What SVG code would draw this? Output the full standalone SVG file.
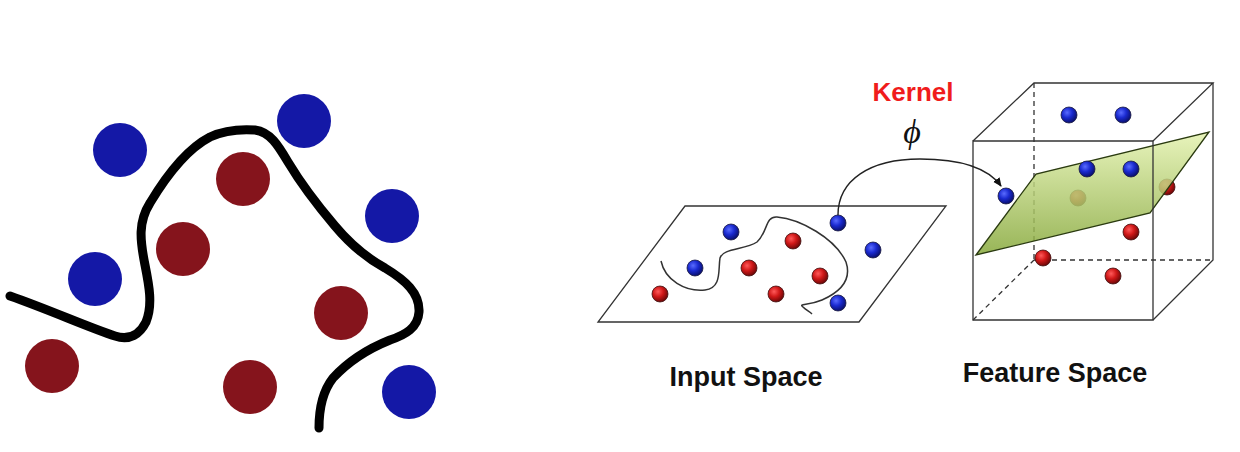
<svg xmlns="http://www.w3.org/2000/svg" width="1240" height="452" viewBox="0 0 1240 452">
<defs>
<style>
.bl{fill:#1418a6}
.rd{fill:#85141c}
.edge{fill:none;stroke:#333;stroke-width:1.3}
.dash{fill:none;stroke:#333;stroke-width:1.3;stroke-dasharray:5,4}
.sb{fill:url(#gb);stroke:#1a1a40;stroke-width:0.8}
.sr{fill:url(#gr);stroke:#401010;stroke-width:0.8}
.lbl{font-family:"Liberation Sans",Arial,sans-serif;font-weight:bold;font-size:27px;fill:#111;text-anchor:middle}
</style>
<radialGradient id="gb" cx="0.38" cy="0.35" r="0.65">
<stop offset="0" stop-color="#5a6cff"/><stop offset="0.5" stop-color="#1a2ad0"/><stop offset="1" stop-color="#0a1070"/>
</radialGradient>
<radialGradient id="gr" cx="0.38" cy="0.35" r="0.65">
<stop offset="0" stop-color="#ff5a5a"/><stop offset="0.5" stop-color="#d01818"/><stop offset="1" stop-color="#700808"/>
</radialGradient>
<linearGradient id="gp" x1="0" y1="0" x2="0" y2="1">
<stop offset="0" stop-color="#e4f2b0"/><stop offset="1" stop-color="#86a83a"/>
</linearGradient>
<marker id="ah" markerWidth="10" markerHeight="10" refX="8" refY="5" orient="auto" markerUnits="userSpaceOnUse">
<path d="M0,1 L9,5 L0,9 Z" fill="#111"/>
</marker>
</defs>
<rect width="1240" height="452" fill="#fff"/>

<g id="left-panel">
<circle class="bl" cx="120" cy="150" r="27"/>
<circle class="bl" cx="304" cy="121" r="27"/>
<circle class="bl" cx="392" cy="216" r="27"/>
<circle class="bl" cx="95" cy="279" r="27"/>
<circle class="bl" cx="409" cy="392" r="27"/>
<circle class="rd" cx="243" cy="179" r="27"/>
<circle class="rd" cx="183" cy="249" r="27"/>
<circle class="rd" cx="341" cy="313" r="27"/>
<circle class="rd" cx="52" cy="366" r="27"/>
<circle class="rd" cx="250" cy="387" r="27"/>
<path d="M10,296 C50,310 90,328 115,336 C130,341 140,334 146,322 C153,305 149,285 145,265 C140,240 138,222 150,203 C165,178 185,150 210,137 C225,130 240,129 255,130 C270,132 278,145 288,162 C300,182 318,206 335,226 C350,244 365,257 385,268 C405,280 420,293 419,312 C418,328 405,335 390,340 C365,350 345,365 333,378 C322,392 319,410 319,428" fill="none" stroke="#000" stroke-width="9" stroke-linecap="round" stroke-linejoin="round"/>
</g>

<g id="input-space">
<polygon points="685,206 946,206 859,322 598,322" class="edge" fill="#fff"/>
<path d="M661,261 C665,280 685,292 705,290 C722,288 718,270 720,258 C723,248 745,250 757,242 C768,232 765,216 777,217 C800,219 835,238 846,262 C852,280 840,292 822,300 C808,306 798,303 803,307 C806,310 810,312 812,314" fill="none" stroke="#333" stroke-width="1.5"/>
<circle class="sb" cx="731" cy="232" r="8"/>
<circle class="sb" cx="695" cy="268" r="8"/>
<circle class="sb" cx="838" cy="223" r="8"/>
<circle class="sb" cx="873" cy="250" r="8"/>
<circle class="sb" cx="838" cy="303" r="8"/>
<circle class="sr" cx="793" cy="241" r="8"/>
<circle class="sr" cx="749" cy="268" r="8"/>
<circle class="sr" cx="820" cy="276" r="8"/>
<circle class="sr" cx="660" cy="294" r="8"/>
<circle class="sr" cx="776" cy="294" r="8"/>
<text class="lbl" x="746" y="386">Input Space</text>
</g>

<g id="feature-space">
<line class="dash" x1="1034" y1="83" x2="1034" y2="260"/>
<line class="dash" x1="1034" y1="260" x2="1213" y2="260"/>
<line class="dash" x1="973" y1="320" x2="1034" y2="260"/>
<circle class="sr" cx="1043" cy="258" r="8"/>
<circle class="sr" cx="1113" cy="276" r="8"/>
<circle class="sr" cx="1131" cy="232" r="8"/>
<circle class="sr" cx="1078" cy="198" r="8"/>
<circle class="sr" cx="1167" cy="187" r="8"/>
<circle class="sb" cx="1069" cy="115" r="8"/>
<circle class="sb" cx="1123" cy="115" r="8"/>
<polygon points="976,255 1036,174 1209,132 1150,213" fill="url(#gp)" fill-opacity="0.85" stroke="#2a3a10" stroke-width="1.3"/>
<circle class="sb" cx="1087" cy="169" r="8"/>
<circle class="sb" cx="1131" cy="169" r="8"/>
<circle class="sb" cx="1006" cy="196" r="8"/>
<polygon class="edge" points="973,141 1153,141 1153,320 973,320"/>
<polyline class="edge" points="973,141 1034,83 1213,83 1153,141"/>
<polyline class="edge" points="1213,83 1213,260 1153,320"/>
<text class="lbl" x="1055" y="382">Feature Space</text>
</g>

<g id="connectors">
<path d="M838,215 C838,180 870,159 920,159 C960,159 988,168 1001,186" fill="none" stroke="#222" stroke-width="1.4" marker-end="url(#ah)"/>
</g>

<g id="kernel-label">
<text x="913" y="101" font-family="'Liberation Sans',Arial,sans-serif" font-weight="bold" font-size="26" fill="#f01c1c" text-anchor="middle">Kernel</text>
<text x="912" y="143" font-family="'Liberation Serif','Times New Roman',serif" font-style="italic" font-size="34" fill="#111" text-anchor="middle">ϕ</text>
</g>
</svg>
